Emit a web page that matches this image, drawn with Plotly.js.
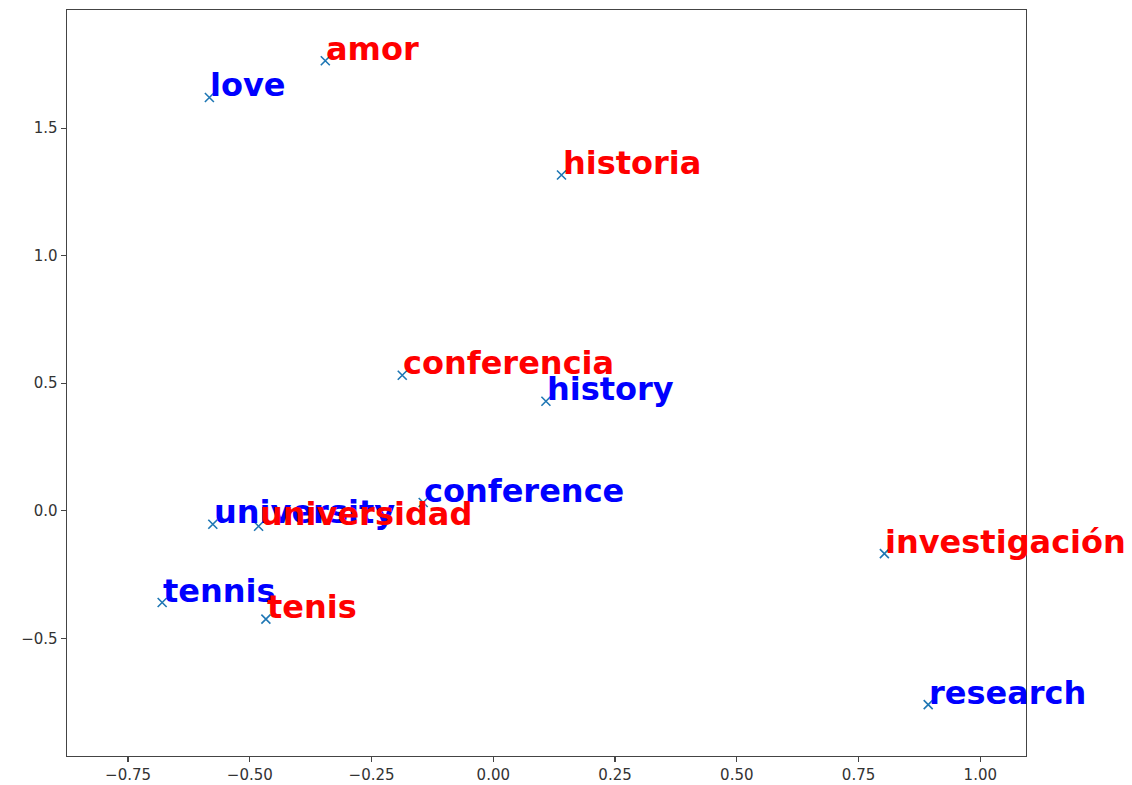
<!DOCTYPE html>
<html>
<head>
<meta charset="utf-8">
<script src="https://cdn.plot.ly/plotly-3.0.1.min.js"></script>
<style>
  html, body { margin: 0; padding: 0; background: #ffffff; }
  #chart { width: 1132px; height: 785px; }
</style>
</head>
<body>
<div id="chart"></div>
<script>
// English words (blue)
const enWords = ["love", "history", "conference", "university", "tennis", "research"];
const enX = [-0.583, 0.108, -0.144, -0.576, -0.680, 0.893];
const enY = [1.620, 0.429, 0.032, -0.053, -0.360, -0.760];

// Spanish words (red)
const esWords = ["amor", "historia", "conferencia", "universidad", "tenis", "investigación"];
const esX = [-0.345, 0.140, -0.187, -0.482, -0.467, 0.803];
const esY = [1.764, 1.316, 0.531, -0.061, -0.425, -0.168];

const xTicks = [-0.75, -0.5, -0.25, 0, 0.25, 0.5, 0.75, 1.0];
const yTicks = [-0.5, 0, 0.5, 1.0, 1.5];

const allX = enX.concat(esX);
const allY = enY.concat(esY);

const markerTrace = {
  x: allX,
  y: allY,
  type: 'scatter',
  mode: 'markers',
  marker: {
    symbol: 'x-thin',
    size: 9,
    color: '#1f77b4',
    line: { color: '#1f77b4', width: 1.6 }
  },
  hoverinfo: 'skip',
  showlegend: false
};

const wordFont = (c) => ({ family: 'DejaVu Sans', size: 32, color: c, weight: 'bold' });

const annotations = [];
enWords.forEach((w, i) => annotations.push({
  x: enX[i], y: enY[i], xref: 'x', yref: 'y', text: w, showarrow: false,
  xanchor: 'left', yanchor: 'bottom', yshift: -9, xshift: -1, font: wordFont('#0000ff')
}));
esWords.forEach((w, i) => annotations.push({
  x: esX[i], y: esY[i], xref: 'x', yref: 'y', text: w, showarrow: false,
  xanchor: 'left', yanchor: 'bottom', yshift: -9, xshift: -1, font: wordFont('#ff0000')
}));

const axisCommon = {
  showgrid: false,
  zeroline: false,
  showline: true,
  mirror: true,
  linecolor: '#444444',
  linewidth: 1.4,
  ticks: 'outside',
  ticklen: 5,
  tickwidth: 1.2,
  tickcolor: '#444444',
  tickfont: { family: 'DejaVu Sans', size: 15, color: '#333333' },
  automargin: false
};

const layout = {
  width: 1132,
  height: 785,
  margin: { l: 67, r: 106, t: 10, b: 29 },
  paper_bgcolor: '#ffffff',
  plot_bgcolor: '#ffffff',
  showlegend: false,
  xaxis: Object.assign({}, axisCommon, {
    range: [-0.8754, 1.0938],
    tickvals: xTicks,
    tickformat: '.2f'
  }),
  yaxis: Object.assign({}, axisCommon, {
    range: [-0.9616, 1.963],
    tickvals: yTicks,
    tickformat: '.1f'
  }),
  annotations: annotations
};

Plotly.newPlot('chart', [markerTrace], layout, { displayModeBar: false, staticPlot: true });
</script>
</body>
</html>
